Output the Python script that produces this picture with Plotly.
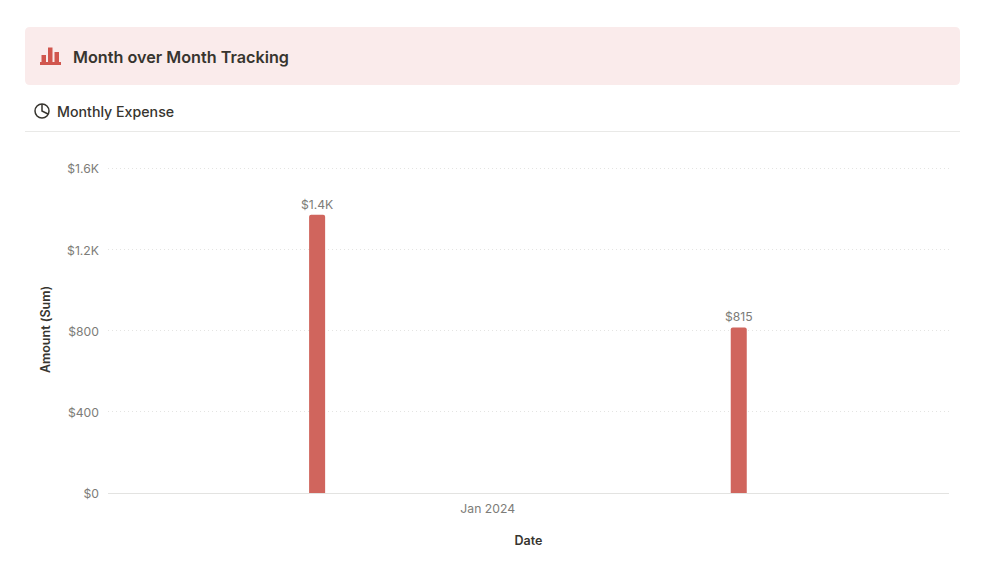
import plotly.graph_objects as go

# values
dates = ["2023-12-19", "2024-01-19"]
amounts = [1370, 815]
bar_labels = ["$1.4K", "$815"]
y_ticks = [0, 400, 800, 1200, 1600]
y_tick_labels = ["$0", "$400", "$800", "$1.2K", "$1.6K"]
x_ticks = ["2023-12-31 13:00"]
x_tick_labels = ["Jan 2024"]

# the page has an 8px body margin
W = 989
H = 554
FONT = "Inter"
DARK = "#37352F"
GREY = "#7D7C78"
RED = "#D0655D"
ICON_RED = "#D1564E"


def px(x):
    return (x - 8) / W


def py(y):
    return 1 - (y - 8) / H


def rect(x0, y0, x1, y1, color):
    return dict(type="rect", xref="paper", yref="paper", x0=px(x0), x1=px(x1), y0=py(y0), y1=py(y1),
                fillcolor=color, line_width=0, layer="below")


def rounded_path(x0, y0, x1, y1, r):
    return (f"M {px(x0 + r)} {py(y0)} L {px(x1 - r)} {py(y0)} Q {px(x1)} {py(y0)} {px(x1)} {py(y0 + r)} "
            f"L {px(x1)} {py(y1 - r)} Q {px(x1)} {py(y1)} {px(x1 - r)} {py(y1)} "
            f"L {px(x0 + r)} {py(y1)} Q {px(x0)} {py(y1)} {px(x0)} {py(y1 - r)} "
            f"L {px(x0)} {py(y0 + r)} Q {px(x0)} {py(y0)} {px(x0 + r)} {py(y0)} Z")


shapes = [
    # banner
    dict(type="path", xref="paper", yref="paper", path=rounded_path(25, 27, 960, 85, 5),
         fillcolor="#FAEBEB", line_width=0, layer="below"),
    # chart icon
    rect(40, 62, 61, 65, ICON_RED),
    rect(41.5, 55, 46, 63, ICON_RED),
    rect(48, 47.5, 52.5, 63, ICON_RED),
    rect(54.5, 52, 59, 63, ICON_RED),
    # line under the subtitle
    rect(25, 131, 960, 132, "#E9E9E7"),
    # pie icon
    dict(type="circle", xref="paper", yref="paper", x0=px(35), x1=px(49), y0=py(118), y1=py(104),
         line=dict(color=DARK, width=1.5)),
    dict(type="path", xref="paper", yref="paper",
         path=f"M {px(42)} {py(104)} L {px(42)} {py(111)} L {px(48)} {py(114)}",
         line=dict(color=DARK, width=1.5)),
]

annotations = [
    dict(text="Month over Month Tracking", xref="paper", yref="paper", x=px(70.5), y=py(57), xanchor="left",
         yanchor="middle", showarrow=False, font=dict(family=FONT, size=16.2, color=DARK, weight=600)),
    dict(text="Monthly Expense", xref="paper", yref="paper", x=px(54.5), y=py(111.5), xanchor="left",
         yanchor="middle", showarrow=False, font=dict(family=FONT, size=14.2, color=DARK, weight=500)),
]

fig = go.Figure()
fig.add_trace(go.Bar(x=dates, y=amounts, text=bar_labels, textposition="outside", cliponaxis=False,
                     constraintext="none",
                     textfont=dict(family=FONT, size=12.2, color=GREY),
                     width=16 / 421 * 31 * 86400000,
                     marker=dict(color=RED, cornerradius=2, line_width=0),
                     hoverinfo="skip"))

fig.update_layout(
    width=W,
    height=H,
    margin=dict(l=0, r=0, t=0, b=0),
    paper_bgcolor="white",
    plot_bgcolor="white",
    showlegend=False,
    shapes=shapes,
    annotations=annotations,
    font=dict(family=FONT, size=12.2, color=GREY),
    xaxis=dict(
        domain=[px(108), px(949)],
        type="date",
        range=["2023-12-03 15:00", "2024-02-03 11:00"],
        tickvals=x_ticks,
        ticktext=x_tick_labels,
        showgrid=False,
        ticks="",
        ticklabelstandoff=4,
        showline=True,
        linecolor="#E3E3E1",
        linewidth=1,
        zeroline=False,
        automargin=False,
        title=dict(text="Date", standoff=21, font=dict(family=FONT, size=12.5, color=DARK, weight=600)),
    ),
    yaxis=dict(
        # range runs a little past the top tick so its gridline is still drawn
        domain=[py(493), py(166)],
        range=[0, 1610],
        tickvals=y_ticks,
        ticktext=y_tick_labels,
        showgrid=True,
        griddash="1px,3px",
        gridcolor="#E4E4E2",
        gridwidth=1,
        zeroline=False,
        ticks="",
        ticklabelstandoff=8,
        ticklabelshift=1,
        automargin=False,
        title=dict(text="Amount (Sum)", standoff=13, font=dict(family=FONT, size=12.5, color=DARK, weight=600)),
    ),
)

fig.write_html("out.html")
